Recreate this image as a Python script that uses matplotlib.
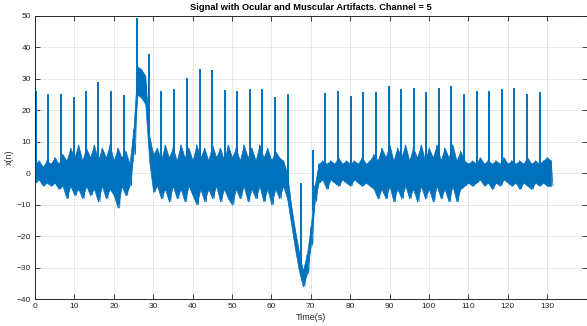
import numpy as np
import matplotlib.pyplot as plt

plt.rcParams['font.family'] = ['Liberation Sans', 'DejaVu Sans']

# === Signal band ===
t_sec = np.arange(0, 132)
band_hi = [3, 4, 2, 4, 3, 5, 3, 6, 4, 8,
           5, 9, 4, 8, 5, 9, 4, 8, 5, 9,
           4, 8, 5, 7, 3, 14, 34, 33, 31, 12,
           6, 8, 4, 9, 5, 8, 4, 9, 5, 8,
           4, 9, 5, 8, 4, 9, 5, 8, 4, 9,
           5, 8, 4, 9, 5, 8, 4, 9, 5, 8,
           4, 7, 5, 4, 0, -10, -18, -25, -31, -26,
           -17, -4, 3, 4, 3, 4, 3, 5, 3, 4,
           3, 4, 3, 5, 3, 4, 6, 4, 8, 5,
           9, 4, 8, 5, 9, 4, 8, 5, 9, 4,
           8, 5, 9, 4, 8, 5, 9, 4, 7, 4,
           3, 4, 3, 5, 3, 4, 3, 4, 3, 5,
           3, 4, 3, 4, 3, 5, 3, 4, 3, 4,
           5, 4]
band_lo = [-3, -2, -4, -3, -4, -3, -5, -4, -8, -4,
           -7, -5, -8, -4, -7, -5, -9, -4, -8, -5,
           -7, -11, -4, -7, -4, 6, 25, 24, 22, 4,
           -6, -4, -8, -5, -9, -4, -8, -5, -9, -4,
           -7, -10, -5, -9, -5, -8, -4, -9, -5, -8,
           -10, -5, -8, -4, -9, -5, -8, -4, -9, -5,
           -10, -5, -8, -4, -8, -16, -24, -31, -36, -32,
           -23, -9, -3, -2, -5, -2, -3, -4, -2, -3,
           -4, -2, -3, -4, -3, -4, -5, -8, -5, -8,
           -4, -9, -5, -8, -4, -8, -5, -9, -4, -8,
           -5, -9, -4, -8, -5, -9, -4, -9, -5, -4,
           -3, -4, -3, -2, -4, -3, -5, -3, -4, -2,
           -3, -4, -3, -5, -3, -4, -5, -3, -4, -3,
           -4, -4]

# === Periodic spikes (time, peak value) ===
spike_t = [0.2, 3.4, 6.5, 9.8, 12.9, 16.1, 19.3, 22.6, 25.8, 28.9,
           32.1, 35.3, 38.5, 41.8, 45.0, 48.2, 51.4, 54.5, 57.7, 61.0,
           64.1, 67.4, 70.6, 73.7, 76.9, 80.1, 83.3, 86.5, 89.8, 93.0,
           96.1, 99.3, 102.5, 105.7, 108.9, 112.1, 115.3, 118.6, 121.7, 124.9,
           128.2]
spike_top = [26.2, 25.1, 25.3, 24.3, 26.2, 29.1, 26.0, 24.9, 49.3, 37.8,
             26.0, 26.8, 30.3, 33.1, 32.7, 26.5, 26.0, 26.7, 26.7, 24.2,
             25.1, -3.1, 7.4, 25.6, 26.3, 24.6, 25.8, 25.8, 27.8, 26.8,
             27.2, 25.8, 27.2, 27.8, 25.2, 26.0, 26.3, 26.7, 27.0, 25.1,
             25.8]

BLUE = '#0072BD'
AX_COL = '#262626'

# zigzag between top and bottom of band
x = np.empty(2 * len(t_sec))
y = np.empty(2 * len(t_sec))
x[0::2] = t_sec
x[1::2] = t_sec + 0.5
y[0::2] = band_hi
y[1::2] = band_lo

mid = (np.array(band_hi) + np.array(band_lo)) / 2
spike_base = np.interp(spike_t, t_sec, mid)

fig = plt.figure(figsize=(5.87, 3.26), dpi=100)
ax = fig.add_axes([35 / 587, 27 / 326, 551.5 / 587, 283 / 326])

ax.fill_between(t_sec, band_lo, band_hi, color=BLUE, lw=0.5, edgecolor=BLUE)
ax.plot(x, y, color=BLUE, lw=0.6)
ax.vlines(spike_t, spike_base, spike_top, color=BLUE, lw=1.4)

ax.set_xlim(0, 140)
ax.set_ylim(-40, 50)
ax.set_xticks(np.arange(0, 140, 10))
ax.set_yticks(np.arange(-40, 51, 10))
ax.grid(True, color='#e3e3e3', lw=0.6)
ax.set_axisbelow(True)

for s in ax.spines.values():
    s.set_color(AX_COL)
    s.set_linewidth(0.7)
ax.tick_params(direction='in', length=3.5, width=0.6, color=AX_COL,
               labelcolor=AX_COL, labelsize=6, top=True, right=True, pad=3)

ax.set_title('Signal with Ocular and Muscular Artifacts. Channel = 5',
             fontsize=6.7, fontweight='bold', color='#000000', pad=4)
ax.set_xlabel('Time(s)', fontsize=6.5, color=AX_COL, labelpad=2)
ax.set_ylabel('x(n)', fontsize=6.5, color=AX_COL, labelpad=2)

fig.savefig('out.png', dpi=100)
